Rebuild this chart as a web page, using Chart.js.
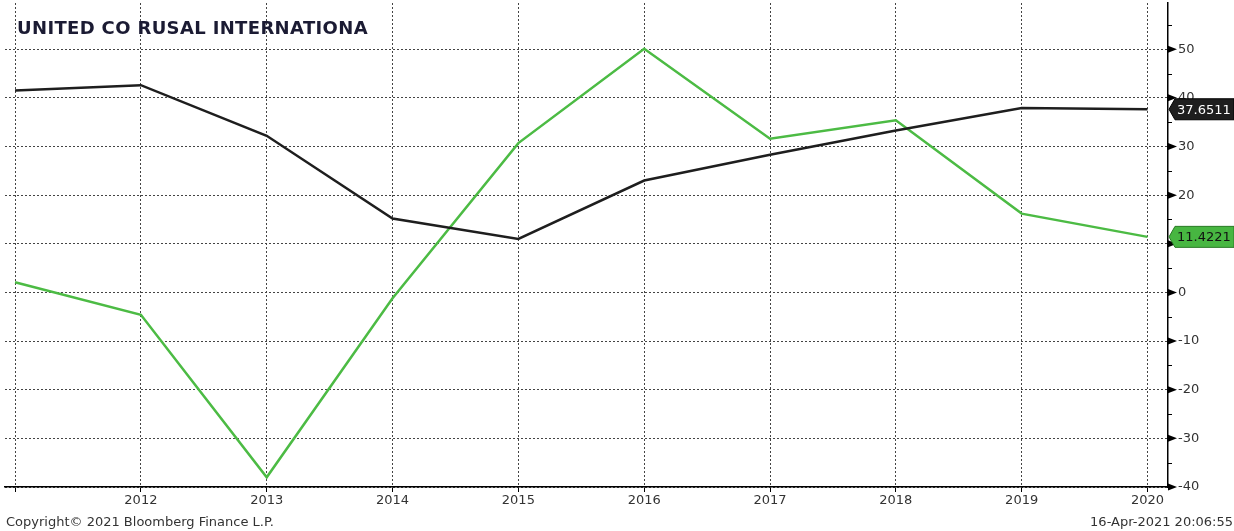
<!DOCTYPE html>
<html>
<head>
<meta charset="utf-8">
<script src="https://cdn.jsdelivr.net/npm/chart.js"></script>
<style>
  html, body { margin: 0; padding: 0; background: #fff; }
  #wrap { position: relative; width: 1234px; height: 531px; overflow: hidden; }
  #title {
    position: absolute; left: 17px; top: 18px;
    font: bold 18px 'DejaVu Sans', Verdana, sans-serif;
    letter-spacing: 0.35px;
    color: #1b1b33; line-height: 20px;
  }
  .foot {
    position: absolute; top: 514px;
    font: 13px 'DejaVu Sans', Tahoma, sans-serif;
    color: #333; line-height: 16px; white-space: nowrap;
  }
</style>
</head>
<body>
<div id="wrap">
  <canvas id="chart" width="1234" height="531"></canvas>
  <div id="title">UNITED CO RUSAL INTERNATIONA</div>
  <div class="foot" style="left:6px">Copyright© 2021 Bloomberg Finance L.P.</div>
  <div class="foot" style="right:1px">16-Apr-2021 20:06:55</div>
</div>
<script>
// data
const years = [2011, 2012, 2013, 2014, 2015, 2016, 2017, 2018, 2019, 2020];
const blackValues = [41.5, 42.6, 32.2, 15.2, 11.0, 23.0, 28.3, 33.3, 37.9, 37.6511];
const greenValues = [2.1, -4.6, -38.0, -1.2, 30.7, 50.1, 31.6, 35.4, 16.2, 11.4221];
const yTicks = [-40, -30, -20, -10, 0, 10, 20, 30, 40, 50];
const yMinorTicks = [-35, -25, -15, -5, 5, 15, 25, 35, 45, 55];

const xMin = 2010.92, xMax = 2020.163;
const yMin = -40, yMax = 59.5;

const BLACK = '#1e1e1e';
const GREEN = '#4cbb44';

function toPoints(vals) {
  return years.map((yr, i) => ({ x: yr, y: vals[i] }));
}

// right axis arrows, minor ticks and last value tags
const axisMarks = {
  id: 'axisMarks',
  afterDraw(chart) {
    const ctx = chart.ctx;
    const ys = chart.scales.y;
    const x0 = chart.chartArea.right;
    ctx.save();
    ctx.fillStyle = '#000';
    ctx.strokeStyle = '#000';
    ctx.lineWidth = 1;
    yTicks.forEach(v => {
      const py = ys.getPixelForValue(v);
      ctx.beginPath();
      ctx.moveTo(x0, py - 3.5);
      ctx.lineTo(x0 + 9, py);
      ctx.lineTo(x0, py + 3.5);
      ctx.closePath();
      ctx.fill();
    });
    yMinorTicks.forEach(v => {
      const py = Math.round(ys.getPixelForValue(v)) + 0.5;
      ctx.beginPath();
      ctx.moveTo(x0, py);
      ctx.lineTo(x0 + 4, py);
      ctx.stroke();
    });

    const tags = [
      { val: blackValues[blackValues.length - 1], bg: BLACK, edge: '#000', fg: '#fff' },
      { val: greenValues[greenValues.length - 1], bg: '#47b641', edge: '#2a7a26', fg: '#111' }
    ];
    ctx.font = '13px "DejaVu Sans", Tahoma, sans-serif';
    ctx.textBaseline = 'middle';
    tags.forEach(t => {
      const py = ys.getPixelForValue(t.val);
      const h = 21, left = x0 + 7, right = chart.width;
      ctx.beginPath();
      ctx.moveTo(x0 + 1, py);
      ctx.lineTo(left, py - h / 2);
      ctx.lineTo(right, py - h / 2);
      ctx.lineTo(right, py + h / 2);
      ctx.lineTo(left, py + h / 2);
      ctx.closePath();
      ctx.fillStyle = t.bg;
      ctx.fill();
      ctx.strokeStyle = t.edge;
      ctx.stroke();
      ctx.fillStyle = t.fg;
      ctx.fillText(t.val.toFixed(4), x0 + 9, py + 1);
    });
    ctx.restore();
  }
};

new Chart(document.getElementById('chart'), {
  type: 'line',
  data: {
    datasets: [
      { data: toPoints(blackValues), borderColor: BLACK, borderWidth: 2.5, pointRadius: 0, tension: 0 },
      { data: toPoints(greenValues), borderColor: GREEN, borderWidth: 2.5, pointRadius: 0, tension: 0 }
    ]
  },
  options: {
    responsive: false,
    animation: false,
    devicePixelRatio: 1,
    layout: { padding: { left: 5, top: 3, right: 0, bottom: 0 } },
    plugins: { legend: { display: false }, tooltip: { enabled: false } },
    scales: {
      x: {
        type: 'linear',
        min: xMin,
        max: xMax,
        afterBuildTicks: axis => { axis.ticks = years.map(v => ({ value: v })); },
        afterFit: scale => {
          scale.height = 44;
          scale.paddingLeft = 0;
          scale.paddingRight = 0;
        },
        grid: { color: '#444', lineWidth: 1, tickLength: 5, tickColor: '#000', tickWidth: 1 },
        border: { color: '#000', width: 1.5, dash: [2, 2] },
        ticks: {
          padding: 1,
          maxRotation: 0,
          autoSkip: false,
          color: '#333',
          font: { family: "'DejaVu Sans', Tahoma, sans-serif", size: 13 },
          callback: v => (v === years[0] ? '' : String(v))
        }
      },
      y: {
        position: 'right',
        min: yMin,
        max: yMax,
        afterBuildTicks: axis => { axis.ticks = yTicks.map(v => ({ value: v })); },
        afterFit: scale => {
          scale.width = 66;
          scale.paddingTop = 0;
          scale.paddingBottom = 0;
        },
        grid: { color: '#444', lineWidth: 1, drawTicks: false },
        border: { color: '#000', width: 1.5, dash: [2, 2] },
        ticks: {
          padding: 10,
          color: '#333',
          font: { family: "'DejaVu Sans', Tahoma, sans-serif", size: 13 }
        }
      }
    }
  },
  plugins: [axisMarks]
});
</script>
</body>
</html>
